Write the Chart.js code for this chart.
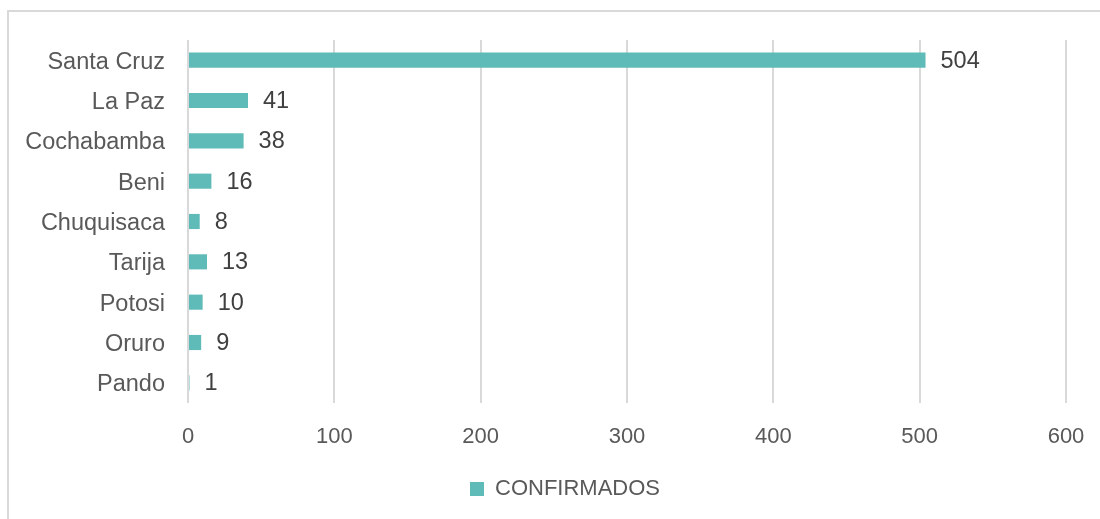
<!DOCTYPE html>
<html>
<head>
<meta charset="utf-8">
<script src="https://cdn.jsdelivr.net/npm/chart.js@4/dist/chart.umd.min.js"></script>
<style>
  html, body { margin: 0; padding: 0; background: #ffffff; }
  #wrap { position: relative; width: 1100px; height: 519px; overflow: hidden; }
  #frame { position: absolute; left: 7px; top: 10px; width: 1200px; height: 600px;
           border-top: 2px solid #d9d9d9; border-left: 2px solid #d9d9d9; box-sizing: border-box; }
  canvas { position: absolute; left: 0; top: 0; }
</style>
</head>
<body>
<div id="wrap">
  <div id="frame"></div>
  <canvas id="c" width="1100" height="519"></canvas>
</div>
<script>
const categories = ["Santa Cruz", "La Paz", "Cochabamba", "Beni", "Chuquisaca", "Tarija", "Potosi", "Oruro", "Pando"];
const confirmados = [504, 41, 38, 16, 8, 13, 10, 9, 1];
const seriesName = "CONFIRMADOS";
const xTicks = [0, 100, 200, 300, 400, 500, 600];

const FONT = "'Liberation Sans', Arial, sans-serif";

const dataLabels = {
  id: 'dataLabels',
  afterDatasetsDraw(chart) {
    const ctx = chart.ctx;
    ctx.save();
    ctx.font = "23.5px " + FONT;
    ctx.fillStyle = "#404040";
    ctx.textAlign = "left";
    ctx.textBaseline = "middle";
    chart.data.datasets.forEach((ds, i) => {
      const meta = chart.getDatasetMeta(i);
      meta.data.forEach((el, j) => {
        ctx.fillText(String(ds.data[j]), el.x + 15, el.y + 1);
      });
    });
    ctx.restore();
  }
};

const legendShift = {
  id: 'legendShift',
  afterLayout(chart) {
    if (chart.legend) {
      chart.legend.left += 32;
      chart.legend.right += 32;
    }
  }
};

new Chart(document.getElementById('c'), {
  type: 'bar',
  data: {
    labels: categories,
    datasets: [{
      label: seriesName,
      data: confirmados,
      backgroundColor: '#5fbbb8',
      borderWidth: 0,
      barPercentage: 0.75,
      categoryPercentage: 0.5
    }]
  },
  options: {
    indexAxis: 'y',
    responsive: false,
    animation: false,
    devicePixelRatio: 1,
    layout: { padding: { left: 0, right: 34, top: 40, bottom: 9 } },
    plugins: {
      legend: {
        position: 'bottom',
        labels: {
          font: { size: 22, family: FONT },
          color: '#595959',
          boxWidth: 14,
          boxHeight: 14,
          padding: 10
        }
      },
      tooltip: { enabled: false }
    },
    scales: {
      x: {
        min: 0,
        max: 600,
        afterBuildTicks(scale) { scale.ticks = xTicks.map(v => ({ value: v })); },
        afterFit(scale) { scale.height = 65; scale.paddingRight = 0; scale.paddingLeft = 0; },
        grid: { color: '#d9d9d9', lineWidth: 2, drawTicks: false },
        border: { display: false },
        ticks: {
          font: { size: 22, family: FONT },
          color: '#595959',
          padding: 21
        }
      },
      y: {
        afterFit(scale) { scale.width = 188; scale.paddingTop = 0; scale.paddingBottom = 0; },
        grid: { display: false, drawTicks: false },
        border: { display: false },
        ticks: {
          font: { size: 23.5, family: FONT },
          color: '#595959',
          padding: 23,
          labelOffset: 2
        }
      }
    }
  },
  plugins: [dataLabels, legendShift]
});
</script>
</body>
</html>
